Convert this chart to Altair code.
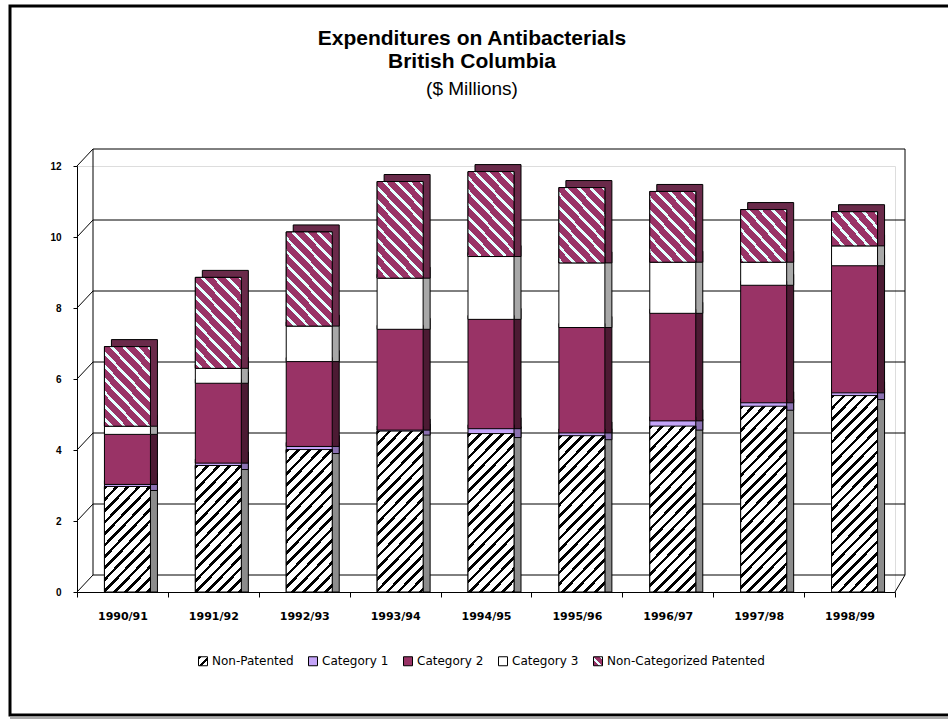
import altair as alt
import pandas as pd

# ---------------- data ----------------
categories = ["1990/91", "1991/92", "1992/93", "1993/94", "1994/95",
              "1995/96", "1996/97", "1997/98", "1998/99"]
series_names = ["Non-Patented", "Category 1", "Category 2", "Category 3",
                "Non-Categorized Patented"]
non_patented = [2.86, 3.45, 3.90, 4.42, 4.35, 4.29, 4.56, 5.12, 5.42]
category_1 = [0.17, 0.18, 0.20, 0.14, 0.25, 0.19, 0.26, 0.21, 0.19]
category_2 = [1.41, 2.25, 2.39, 2.84, 3.08, 2.97, 3.03, 3.31, 3.58]
category_3 = [0.23, 0.42, 1.00, 1.44, 1.77, 1.82, 1.44, 0.65, 0.56]
non_cat_patented = [2.13, 2.45, 2.54, 2.61, 2.28, 2.01, 1.88, 1.37, 0.85]
y_ticks = [0, 2, 4, 6, 8, 10, 12]

series_values = [non_patented, category_1, category_2, category_3, non_cat_patented]

# ---------------- styles ----------------
W, H = 818, 426
PX_PER_UNIT = H / 12.0
BAR_W = 46
X_OFF, Y_OFF = 5, -4
DEPTH = 7
WALL_DX, WALL_DY = 16, -17

PLUM = "#993366"
depth_colors = ["#8c8c8c", "#8a70b0", "#4c1a33", "#a8a8a8", "#6a2a4a"]

rows = []
for i, c in enumerate(categories):
    base = 0.0
    for s, vals, dc in zip(series_names, series_values, depth_colors):
        v = vals[i]
        rows.append({"cat": c, "series": s, "val": v, "y0": base, "y1": base + v,
                     "dcolor": dc})
        base += v
df = pd.DataFrame(rows)


def stripe_gradient(w, h, period, c_bg, c_line, frac, direction):
    """Linear gradient in bounding-box units giving 45-degree stripes."""
    n = (w + h) / period
    stops = []
    k = 0
    while k < n:
        a = k / n
        b = min((k + frac) / n, 1.0)
        e = min((k + 1) / n, 1.0)
        stops += [alt.GradientStop(offset=a, color=c_line),
                  alt.GradientStop(offset=b, color=c_line),
                  alt.GradientStop(offset=b, color=c_bg),
                  alt.GradientStop(offset=e, color=c_bg)]
        k += 1
    d = w * w + h * h
    if direction == "/":
        return alt.LinearGradient(gradient="linear", stops=stops, x1=0, y1=0,
                                  x2=(w + h) * w / d, y2=(w + h) * h / d)
    return alt.LinearGradient(gradient="linear", stops=stops, x1=1, y1=0,
                              x2=1 - (w + h) * w / d, y2=(w + h) * h / d)


def grad_expr(direction, c_bg, c_line, n):
    parts = []
    for k in range(n):
        a, b, e = k / n, (k + 0.4) / n, (k + 1) / n
        parts += [f"{{offset:{a},color:'{c_line}'}}", f"{{offset:{b},color:'{c_line}'}}",
                  f"{{offset:{b},color:'{c_bg}'}}", f"{{offset:{e},color:'{c_bg}'}}"]
    if direction == "/":
        coords = "x1:0,y1:0,x2:1,y2:1"
    else:
        coords = "x1:1,y1:0,x2:0,y2:1"
    return alt.ExprRef("{gradient:'linear'," + coords + ",stops:[" + ",".join(parts) + "]}")


legend_range = [grad_expr("/", "#ffffff", "#000000", 2), "#c4a4f8", PLUM, "#ffffff",
                grad_expr("\\", PLUM, "#e6ffff", 2)]

x_enc = alt.X("cat:N", sort=categories,
              scale=alt.Scale(paddingInner=0, paddingOuter=0),
              axis=alt.Axis(title=None, labelAngle=0, tickBand="extent", tickSize=5,
                            tickColor="black", domainColor="black", zindex=2,
                            labelFont="DejaVu Sans", labelFontWeight="bold",
                            labelFontSize=11, labelColor="black", labelPadding=13))
y_scale = alt.Scale(domain=[0, 12], nice=False, zero=True)
y_enc = alt.Y("y1:Q", scale=y_scale,
              axis=alt.Axis(title=None, values=y_ticks, grid=False, tickSize=4,
                            tickColor="black", domainColor="black", zindex=2,
                            labelFont="Liberation Sans", labelFontWeight="bold",
                            labelFontSize=10, labelColor="black", labelPadding=12))

base = alt.Chart(df)

# frame
frame_df = pd.DataFrame({"a": [0]})
frame = alt.Chart(frame_df).mark_rect(fillOpacity=0, stroke="black", strokeWidth=3).encode(
    x=alt.value(-67), x2=alt.value(900), y=alt.value(-160), y2=alt.value(549))
shadow = alt.Chart(frame_df).mark_rule(color="#aaaaaa", strokeWidth=3).encode(
    x=alt.value(-67), x2=alt.value(900), y=alt.value(552))

tick_df = pd.DataFrame({"t": y_ticks})
grid = alt.Chart(tick_df).mark_rule(color="black", strokeWidth=1, yOffset=WALL_DY).encode(
    y=alt.Y("t:Q", scale=y_scale), x=alt.value(WALL_DX), x2=alt.value(W + 10))
connectors = alt.Chart(tick_df).mark_rule(color="black", strokeWidth=1,
                                          y2Offset=WALL_DY).encode(
    y=alt.Y("t:Q", scale=y_scale), y2="t:Q", x=alt.value(0), x2=alt.value(WALL_DX))

wall_df = pd.DataFrame({"lo": [0], "hi": [12]})
left_wall = alt.Chart(wall_df).mark_rule(color="black", yOffset=WALL_DY,
                                         y2Offset=WALL_DY).encode(
    y=alt.Y("lo:Q", scale=y_scale), y2="hi:Q", x=alt.value(WALL_DX))
right_wall = alt.Chart(wall_df).mark_rule(color="black", yOffset=WALL_DY,
                                          y2Offset=WALL_DY).encode(
    y=alt.Y("lo:Q", scale=y_scale), y2="hi:Q", x=alt.value(W + 10))
floor_edge = alt.Chart(wall_df).mark_rule(color="black", y2Offset=WALL_DY).encode(
    y=alt.Y("lo:Q", scale=y_scale), y2="lo:Q", x=alt.value(W), x2=alt.value(W + 10))

depth = base.mark_bar(width=BAR_W, xOffset=X_OFF + DEPTH, yOffset=Y_OFF - DEPTH,
                      stroke="black", strokeWidth=1).encode(
    x=x_enc, y=alt.Y("y1:Q", scale=y_scale), y2="y0:Q",
    color=alt.Color("dcolor:N", scale=None))

front = base.mark_bar(width=BAR_W, xOffset=X_OFF, yOffset=Y_OFF,
                      stroke="black", strokeWidth=1).encode(
    x=x_enc, y=y_enc, y2="y0:Q",
    color=alt.Color("series:N",
                    scale=alt.Scale(domain=series_names, range=legend_range),
                    legend=alt.Legend(title=None, orient="none", legendX=120,
                                      legendY=489, direction="horizontal",
                                      symbolType="square", symbolSize=81,
                                      symbolStrokeColor="black",
                                      symbolStrokeWidth=1, labelFont="DejaVu Sans",
                                      labelFontSize=12, labelColor="black",
                                      labelOffset=3, columnPadding=12,
                                      labelLimit=300)))

hatch_layers = []
for i, c in enumerate(categories):
    for s, vals in ((series_names[0], non_patented), (series_names[4], non_cat_patented)):
        h = vals[i] * PX_PER_UNIT
        if s == series_names[0]:
            g = stripe_gradient(BAR_W, h, 11, "#ffffff", "#000000", 0.33, "/")
        else:
            g = stripe_gradient(BAR_W, h, 12.5, PLUM, "#e6ffff", 0.3, "\\")
        layer = base.transform_filter(
            (alt.datum.cat == c) & (alt.datum.series == s)
        ).mark_bar(width=BAR_W, xOffset=X_OFF, yOffset=Y_OFF, fill=g,
                   stroke="black", strokeWidth=1).encode(
            x=x_enc, y=alt.Y("y1:Q", scale=y_scale), y2="y0:Q")
        hatch_layers.append(layer)

chart = alt.layer(frame, shadow, grid, connectors, left_wall, right_wall, floor_edge,
                  depth, front, *hatch_layers).properties(
    width=W, height=H,
    padding={"left": 77, "top": 166, "right": 53, "bottom": 127},
    autosize=alt.AutoSizeParams(type="none"),
    title=alt.TitleParams(
        text=["Expenditures on Antibacterials", "British Columbia"],
        subtitle="($ Millions)", font="Liberation Sans", fontSize=21,
        fontWeight="bold", lineHeight=23, color="black",
        subtitleFont="Liberation Sans", subtitleFontSize=19,
        subtitleFontWeight="normal", subtitleColor="black", subtitlePadding=8,
        anchor="middle", dx=-14, offset=-94),
).configure_view(stroke=None).configure(background="white")

chart.save("out.html", embed_options={"renderer": "svg", "actions": False})
